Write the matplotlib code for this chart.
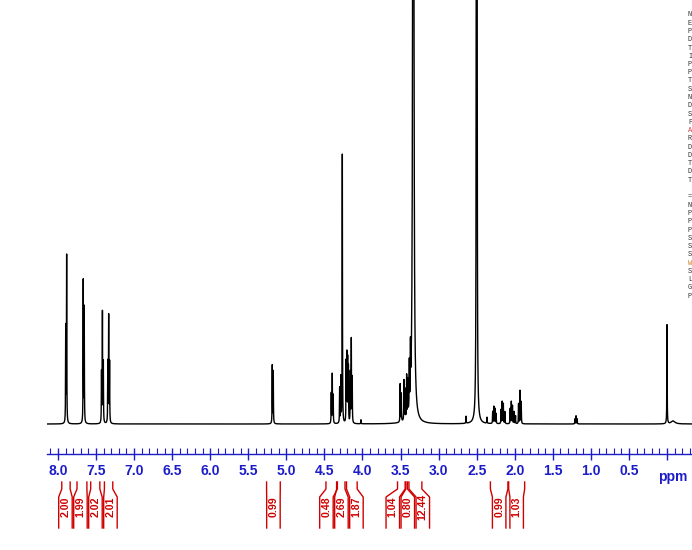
import numpy as np
import matplotlib
matplotlib.use("Agg")
import matplotlib.pyplot as plt
from matplotlib.ticker import MultipleLocator, FixedFormatter, FixedLocator

plt.rcParams['font.family'] = ['Liberation Sans', 'DejaVu Sans']

# ---------------- data ----------------
# peak lines: chemical shift (ppm), height (arbitrary units), half width (ppm)
peak_ppm = [7.898, 7.886, 7.668, 7.655,
            7.428, 7.416, 7.404, 7.345, 7.334, 7.322,
            5.185, 5.172,
            4.410, 4.397, 4.385, 4.300, 4.285, 4.265,
            4.215, 4.205, 4.195, 4.185, 4.160, 4.147, 4.135, 4.020,
            3.505, 3.490, 3.455, 3.440, 3.420, 3.405, 3.385, 3.370,
            3.333,
            2.640, 2.504, 2.500, 2.496, 2.365,
            2.290, 2.275, 2.260, 2.245, 2.180, 2.165, 2.150, 2.130,
            2.060, 2.045, 2.030, 2.010, 1.990, 1.950, 1.931, 1.915,
            1.210, 1.195, 1.180, 0.000, -0.080]
peak_height = [95, 167, 142, 115,
               50, 110, 60, 60, 106, 60,
               58, 52,
               30, 49, 28, 35, 45, 269,
               60, 67, 62, 55, 50, 83, 45, 4,
               38, 28, 40, 30, 42, 35, 46, 50,
               2000,
               7, 700, 1500, 700, 6,
               12, 17, 15, 10, 14, 22, 20, 12,
               15, 22, 18, 12, 8, 20, 33, 22,
               5, 8, 5, 99, 3]
peak_width = [0.0022] * 34 + [0.005] + [0.0022] * 25 + [0.03]

# integrals: (left ppm, right ppm, value)
integral_left = [7.95, 7.75, 7.57, 7.39, 5.26, 4.48, 4.34, 4.21, 3.54, 3.43, 3.39, 2.32, 2.08]
integral_right = [7.84, 7.62, 7.45, 7.28, 5.08, 4.33, 4.23, 4.07, 3.44, 3.41, 3.22, 2.09, 1.87]
integral_labels = ["2.00", "1.99", "2.02", "2.01", "0.99", "0.48", "2.69", "1.87",
                   "1.04", "0.80", "12.44", "0.99", "1.03"]

tick_values = [8.0, 7.5, 7.0, 6.5, 6.0, 5.5, 5.0, 4.5, 4.0, 3.5, 3.0, 2.5, 2.0, 1.5, 1.0, 0.5]
tick_labels = ["8.0", "7.5", "7.0", "6.5", "6.0", "5.5", "5.0", "4.5", "4.0",
               "3.5", "3.0", "2.5", "2.0", "1.5", "1.0", "0.5"]

# visible part of the acquisition-parameter list at the right edge
param_block1 = ["N", "E", "P", "D", "T", "I", "P", "P", "T", "S", "N",
                "D", "S", "F", "A", "R", "D", "D", "T", "D", "T"]
param_block2 = ["=", "N", "P", "P", "P", "S", "S", "S", "W", "S", "L", "G", "P"]

# ---------------- figure ----------------
W, H = 692, 550
fig = plt.figure(figsize=(W / 100, H / 100), dpi=100)
BLUE = '#1c1cc8'
RED = '#d00000'

x0 = 46.7
XMAX, XMIN = 8.148, -0.328
ax = fig.add_axes([x0 / W, (H - 454) / H, (W - x0) / W, 454 / H])
ax.set_xlim(XMAX, XMIN)
ax.set_ylim(-30, 424)

x = np.linspace(XMIN, XMAX, 60000)
y = np.zeros_like(x)
for p, h, w in zip(peak_ppm, peak_height, peak_width):
    y += h / (1 + ((x - p) / w) ** 2)
ax.plot(x, y, color='black', lw=1.0)

for s in ['top', 'left', 'right']:
    ax.spines[s].set_visible(False)
ax.spines['bottom'].set_color(BLUE)
ax.spines['bottom'].set_linewidth(1.0)
ax.set_yticks([])
ax.xaxis.set_major_locator(FixedLocator(tick_values + [0.0]))
ax.xaxis.set_major_formatter(FixedFormatter(tick_labels + [""]))
ax.xaxis.set_minor_locator(MultipleLocator(0.1))
ax.tick_params(axis='x', which='major', direction='inout', length=9, width=1,
               color=BLUE, labelcolor=BLUE, labelsize=10, pad=3)
ax.tick_params(axis='x', which='minor', direction='in', length=4, width=0.8, color=BLUE)
for t in ax.get_xticklabels():
    t.set_fontweight('bold')
ax.text(-0.07, -0.035, "ppm", transform=ax.get_xaxis_transform(), ha='center', va='top',
        color=BLUE, fontsize=10, fontweight='bold')

# ---------------- integrals ----------------
iax = fig.add_axes([x0 / W, (H - 532) / H, (W - x0) / W, 52 / H])
iax.set_xlim(XMAX, XMIN)
iax.set_ylim(532, 480)
iax.axis('off')

scale = 76.125  # px per ppm
bw = 13.5 / scale
pitch = 15.0 / scale
desired = [(a + b) / 2 for a, b in zip(integral_left, integral_right)]
clusters = [[i] for i in range(len(desired))]


def place(cl):
    m = np.mean([desired[i] for i in cl])
    n = len(cl)
    return [m - (k - (n - 1) / 2) * pitch for k in range(n)]


changed = True
while changed:
    changed = False
    for j in range(len(clusters) - 1):
        a = place(clusters[j])
        b = place(clusters[j + 1])
        if a[-1] - b[0] < pitch - 1e-9:
            clusters[j] = clusters[j] + clusters[j + 1]
            del clusters[j + 1]
            changed = True
            break

centers = []
for cl in clusters:
    centers += place(cl)

for b1, b2, c, lab in zip(integral_left, integral_right, centers, integral_labels):
    L, R = c + bw / 2, c - bw / 2
    iax.plot([b1, b1, L, L], [482, 489, 497, 528], color=RED, lw=1, clip_on=False)
    iax.plot([b2, b2, R, R], [482, 489, 497, 528], color=RED, lw=1, clip_on=False)
    iax.text(c, 507, lab, rotation=90, ha='center', va='center', color=RED,
             fontsize=7.6, fontweight='bold')

# ---------------- parameter letters at the right edge ----------------
for k, s in enumerate(param_block1):
    fig.text(688 / W, 1 - (15 + k * 8.25) / H, s, fontsize=5, family='Liberation Mono',
             color='#d04040' if k == 14 else '#333333', va='center', ha='left')
for k, s in enumerate(param_block2):
    fig.text(688 / W, 1 - (197 + k * 8.25) / H, s, fontsize=5, family='Liberation Mono',
             color='#d08020' if k == 8 else '#333333', va='center', ha='left')

fig.savefig("out.png", dpi=100)
